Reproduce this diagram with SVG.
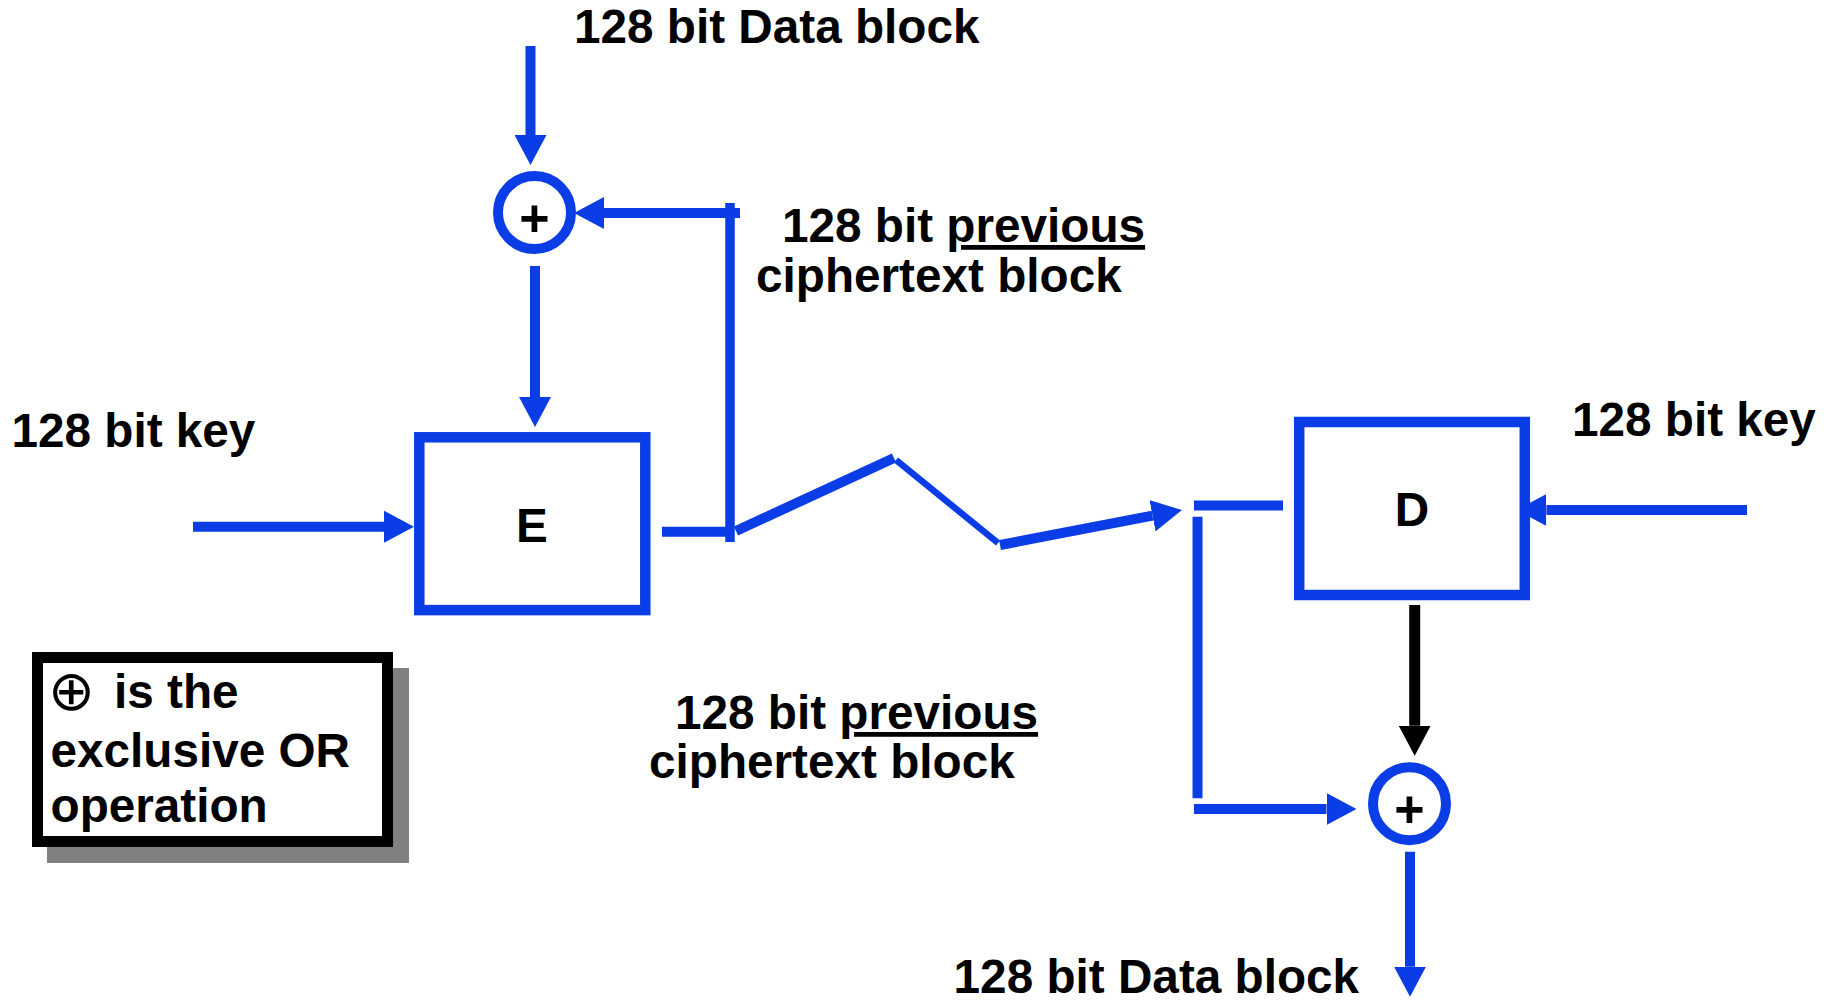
<svg xmlns="http://www.w3.org/2000/svg" width="1838" height="1004" viewBox="0 0 1838 1004">
<style>
.lbl{font-family:"Liberation Sans",Arial,sans-serif;font-weight:bold;font-size:47.7px;fill:#000}
.plus{font-family:"Liberation Sans",Arial,sans-serif;font-weight:bold;font-size:52px;fill:#000}
.ln{stroke:#0a3de6;stroke-width:10;fill:none}
.blk{stroke:#000;stroke-width:11;fill:none}
.box{stroke:#0a3de6;stroke-width:10.5;fill:#fff}
.xor{stroke:#0a3de6;stroke-width:10;fill:#fff}
</style>
<defs>
<marker id="ah" markerUnits="userSpaceOnUse" viewBox="0 0 30 32" markerWidth="30" markerHeight="32" refX="0" refY="16" orient="auto"><path d="M0,0 L30,16 L0,32 z" fill="#0a3de6"/></marker>
<marker id="ahk" markerUnits="userSpaceOnUse" viewBox="0 0 30 32" markerWidth="30" markerHeight="32" refX="0" refY="16" orient="auto"><path d="M0,0 L30,16 L0,32 z" fill="#000"/></marker>
</defs>
<rect width="1838" height="1004" fill="#fff"/>

<g id="connectors">
<line class="ln" x1="530.5" y1="46" x2="530.5" y2="135" marker-end="url(#ah)"/>
<line class="ln" x1="535" y1="266" x2="535" y2="397" marker-end="url(#ah)"/>
<line class="ln" x1="740" y1="213" x2="604" y2="213" marker-end="url(#ah)"/>
<line class="ln" x1="730" y1="203" x2="730" y2="542" style="stroke-width:9.5"/>
<line class="ln" x1="193" y1="526.7" x2="384" y2="526.7" marker-end="url(#ah)"/>
<line class="ln" x1="662" y1="531.7" x2="734" y2="531.7"/>
<line class="ln" x1="736" y1="531" x2="894" y2="458"/>
<line class="ln" x1="896" y1="460" x2="998" y2="543" style="stroke-width:6.5"/>
<line class="ln" x1="1000" y1="545" x2="1152.5" y2="515.7" marker-end="url(#ah)"/>
<line class="ln" x1="1747" y1="510" x2="1546.4" y2="510" marker-end="url(#ah)"/>
<line class="ln" x1="1194" y1="505.5" x2="1283" y2="505.5"/>
<line class="ln" x1="1197.5" y1="516.7" x2="1197.5" y2="798.3"/>
<line class="ln" x1="1194" y1="809" x2="1326.5" y2="809" marker-end="url(#ah)"/>
<line class="blk" x1="1414.7" y1="605" x2="1414.7" y2="725.7" marker-end="url(#ahk)"/>
<line class="ln" x1="1410" y1="851.7" x2="1410" y2="966.7" marker-end="url(#ah)"/>
</g>

<g id="xor-top">
<circle class="xor" cx="534.5" cy="212.5" r="36.5"/>
<text class="plus" x="534.5" y="236" text-anchor="middle">+</text>
</g>

<g id="box-E">
<rect class="box" x="419.3" y="437.3" width="226" height="172.8"/>
<text class="lbl" x="532" y="541.7" text-anchor="middle">E</text>
</g>

<g id="box-D">
<rect class="box" x="1299.2" y="422" width="225.6" height="173"/>
<text class="lbl" x="1412" y="525.7" text-anchor="middle">D</text>
</g>

<g id="xor-bottom">
<circle class="xor" cx="1409.5" cy="803.7" r="36.5"/>
<text class="plus" x="1409.5" y="827" text-anchor="middle">+</text>
</g>

<g id="legend">
<rect x="47" y="668" width="362" height="195" fill="#808080"/>
<rect x="37.5" y="657.5" width="350" height="184" fill="#fff" stroke="#000" stroke-width="11"/>
<text class="lbl" x="48" y="710"><tspan style="font-family:'DejaVu Sans',sans-serif;font-weight:normal;font-size:56px">⊕</tspan><tspan x="114" y="708">is the</tspan></text>
<text class="lbl" x="50.5" y="766.7">exclusive OR</text>
<text class="lbl" x="50.5" y="822">operation</text>
</g>

<g id="labels">
<text class="lbl" x="574" y="43">128 bit Data block</text>
<text class="lbl" x="782" y="242">128 bit <tspan text-decoration="underline">previous</tspan></text>
<text class="lbl" x="756" y="292">ciphertext block</text>
<text class="lbl" x="11.5" y="446.7">128 bit key</text>
<text class="lbl" x="1572" y="436">128 bit key</text>
<text class="lbl" x="675" y="729">128 bit <tspan text-decoration="underline">previous</tspan></text>
<text class="lbl" x="649" y="778">ciphertext block</text>
<text class="lbl" x="953.6" y="993">128 bit Data block</text>
</g>
</svg>
